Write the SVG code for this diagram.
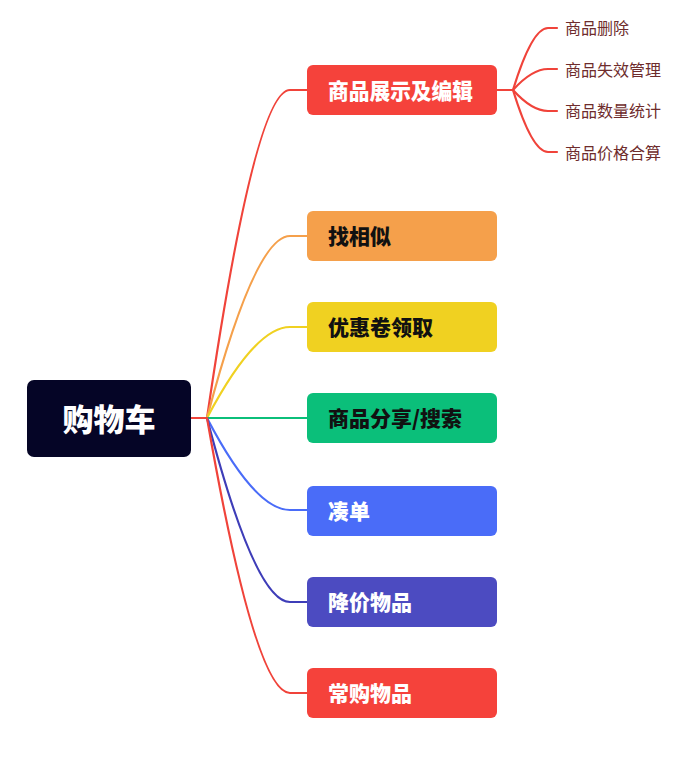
<svg xmlns="http://www.w3.org/2000/svg" width="690" height="760" viewBox="0 0 690 760">
<style>
.t{font-family:"Noto Sans CJK SC","Noto Sans",sans-serif;font-weight:900;dominant-baseline:central}
.lf{font-family:"Noto Sans CJK SC","Noto Sans",sans-serif;font-size:16px;fill:#6e2c2c;dominant-baseline:central}
.c{fill:none;stroke-width:2.2;stroke-linecap:round}
</style>
<rect width="690" height="760" fill="#ffffff"/>
<g id="connectors">
<line class="c" x1="191" y1="418" x2="207" y2="418" stroke="#f0433a"/>
<path class="c" d="M207,418 Q255,90 290,90 L307,90" stroke="#f0433a"/>
<path class="c" d="M207,418 Q255,236 290,236 L307,236" stroke="#f5a04b"/>
<path class="c" d="M207,418 Q255,327 290,327 L307,327" stroke="#f0d121"/>
<path class="c" d="M207,418 L307,418" stroke="#0bbf7a"/>
<path class="c" d="M207,418 Q255,510 290,510 L307,510" stroke="#4a6cf8"/>
<path class="c" d="M207,418 Q255,602 290,602 L307,602" stroke="#3e3db8"/>
<path class="c" d="M207,418 Q255,693 290,693 L307,693" stroke="#f0433a"/>
<line class="c" x1="497" y1="90" x2="513" y2="90" stroke="#f0433a"/>
<path class="c" d="M513,90 Q532,28 548,28 L557,28" stroke="#f0433a"/>
<path class="c" d="M513,90 Q532,69 548,69 L557,69" stroke="#f0433a"/>
<path class="c" d="M513,90 Q532,111 548,111 L557,111" stroke="#f0433a"/>
<path class="c" d="M513,90 Q532,152 548,152 L557,152" stroke="#f0433a"/>
</g>
<g id="root">
<rect x="27" y="380" width="164" height="77" rx="7" fill="#050526"/>
<text class="t" x="109" y="417" font-size="31" fill="#ffffff" text-anchor="middle">购物车</text>
</g>
<g id="n1">
<rect x="307" y="65" width="190" height="50" rx="6" fill="#f5423b"/>
<text class="t" x="328" y="89" font-size="22" fill="#ffffff" textLength="145" lengthAdjust="spacingAndGlyphs">商品展示及编辑</text>
</g>
<g id="n2">
<rect x="307" y="211" width="190" height="50" rx="6" fill="#f5a04b"/>
<text class="t" x="328" y="235" font-size="21" fill="#111111">找相似</text>
</g>
<g id="n3">
<rect x="307" y="302" width="190" height="50" rx="6" fill="#f0d121"/>
<text class="t" x="328" y="326" font-size="21" fill="#111111">优惠卷领取</text>
</g>
<g id="n4">
<rect x="307" y="393" width="190" height="50" rx="6" fill="#0bbf7a"/>
<text class="t" x="328" y="417" font-size="21" fill="#111111">商品分享/搜索</text>
</g>
<g id="n5">
<rect x="307" y="486" width="190" height="50" rx="6" fill="#4a6cf8"/>
<text class="t" x="328" y="510" font-size="21" fill="#ffffff">凑单</text>
</g>
<g id="n6">
<rect x="307" y="577" width="190" height="50" rx="6" fill="#4c4bc1"/>
<text class="t" x="328" y="601" font-size="21" fill="#ffffff">降价物品</text>
</g>
<g id="n7">
<rect x="307" y="668" width="190" height="50" rx="6" fill="#f5423b"/>
<text class="t" x="328" y="692" font-size="21" fill="#ffffff">常购物品</text>
</g>
<g id="l1"><text class="lf" x="565" y="27">商品删除</text></g>
<g id="l2"><text class="lf" x="565" y="69">商品失效管理</text></g>
<g id="l3"><text class="lf" x="565" y="110">商品数量统计</text></g>
<g id="l4"><text class="lf" x="565" y="152">商品价格合算</text></g>
</svg>
